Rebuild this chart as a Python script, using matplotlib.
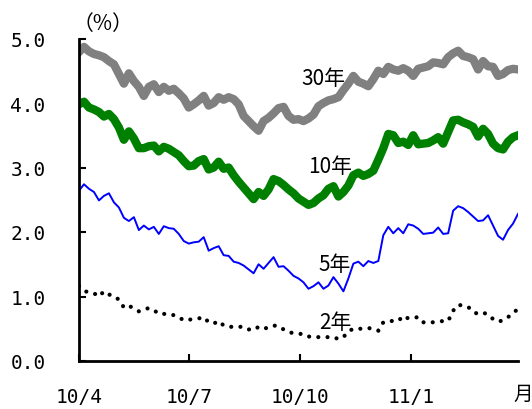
import matplotlib
matplotlib.use("Agg")
import matplotlib.pyplot as plt
import pandas as pd

plt.rcParams["font.family"] = ["Noto Sans CJK JP", "DejaVu Sans"]

# yields (%) sampled evenly from 2010/4 to 2011/3
yield_30y = [4.79, 4.87, 4.80, 4.76, 4.74, 4.71, 4.65, 4.60, 4.45, 4.30,
             4.46, 4.34, 4.25, 4.11, 4.25, 4.29, 4.17, 4.25, 4.19, 4.22,
             4.15, 4.07, 3.93, 3.98, 4.04, 4.11, 3.96, 4.00, 4.09, 4.05,
             4.09, 4.06, 3.98, 3.80, 3.72, 3.64, 3.57, 3.72, 3.77, 3.84,
             3.92, 3.94, 3.80, 3.74, 3.75, 3.72, 3.76, 3.82, 3.95, 4.00,
             4.04, 4.06, 4.09, 4.20, 4.30, 4.42, 4.33, 4.30, 4.26, 4.37,
             4.50, 4.45, 4.56, 4.52, 4.50, 4.54, 4.50, 4.42, 4.53, 4.55,
             4.57, 4.63, 4.62, 4.60, 4.71, 4.77, 4.81, 4.73, 4.71, 4.68,
             4.52, 4.65, 4.57, 4.56, 4.42, 4.45, 4.51, 4.53, 4.52]

yield_10y = [3.98, 4.02, 3.93, 3.90, 3.86, 3.79, 3.83, 3.75, 3.62, 3.43,
             3.56, 3.45, 3.30, 3.30, 3.33, 3.34, 3.25, 3.32, 3.29, 3.24,
             3.19, 3.10, 3.02, 3.03, 3.10, 3.13, 2.97, 3.00, 3.09, 2.98,
             3.00, 2.88, 2.78, 2.69, 2.60, 2.51, 2.62, 2.56, 2.66, 2.82,
             2.79, 2.73, 2.66, 2.60, 2.52, 2.47, 2.42, 2.45, 2.52, 2.57,
             2.67, 2.71, 2.55, 2.62, 2.72, 2.88, 2.92, 2.87, 2.90, 2.95,
             3.12, 3.30, 3.52, 3.50, 3.38, 3.40, 3.35, 3.50, 3.36, 3.37,
             3.38, 3.42, 3.47, 3.37, 3.55, 3.73, 3.74, 3.70, 3.67, 3.63,
             3.48, 3.60, 3.52, 3.37, 3.30, 3.28, 3.40, 3.47, 3.50]

yield_5y = [2.64, 2.74, 2.67, 2.62, 2.49, 2.56, 2.60, 2.46, 2.38, 2.22,
            2.17, 2.23, 2.03, 2.10, 2.04, 2.08, 1.97, 2.09, 2.06, 2.05,
            1.97, 1.86, 1.82, 1.84, 1.85, 1.92, 1.71, 1.75, 1.78, 1.64,
            1.63, 1.54, 1.52, 1.48, 1.42, 1.36, 1.50, 1.43, 1.52, 1.61,
            1.46, 1.47, 1.40, 1.32, 1.28, 1.22, 1.12, 1.16, 1.22, 1.12,
            1.17, 1.30, 1.20, 1.08, 1.28, 1.51, 1.54, 1.47, 1.55, 1.52,
            1.55, 1.95, 2.08, 1.98, 2.06, 1.98, 2.12, 2.10, 2.05, 1.97,
            1.98, 1.99, 2.07, 1.97, 1.98, 2.33, 2.40, 2.37, 2.31, 2.24,
            2.17, 2.18, 2.26, 2.10, 1.94, 1.88, 2.03, 2.13, 2.28]

yield_2y = [1.16, 1.09, 1.06, 1.05, 1.00, 1.08, 1.03, 1.01, 0.95, 0.83,
            0.86, 0.81, 0.77, 0.80, 0.82, 0.79, 0.73, 0.73, 0.73, 0.71,
            0.68, 0.63, 0.64, 0.65, 0.66, 0.68, 0.60, 0.58, 0.62, 0.55,
            0.53, 0.53, 0.53, 0.53, 0.49, 0.48, 0.53, 0.50, 0.52, 0.55,
            0.54, 0.49, 0.45, 0.43, 0.42, 0.42, 0.38, 0.37, 0.37, 0.37,
            0.37, 0.37, 0.34, 0.37, 0.46, 0.50, 0.50, 0.50, 0.51, 0.50,
            0.47, 0.60, 0.62, 0.62, 0.62, 0.70, 0.66, 0.67, 0.68, 0.60,
            0.60, 0.60, 0.61, 0.62, 0.62, 0.78, 0.87, 0.86, 0.84, 0.76,
            0.73, 0.75, 0.72, 0.65, 0.61, 0.63, 0.68, 0.74, 0.81]

tick_dates = ["2010-04-01", "2010-07-01", "2010-10-01", "2011-01-01"]
tick_labels = ["10/4", "10/7", "10/10", "11/1"]

dates = pd.date_range("2010-04-01", "2011-03-31", periods=len(yield_30y))

fig = plt.figure(figsize=(5.32, 4.10), dpi=100)
ax = fig.add_axes([79 / 532, 1 - 362 / 410, (518 - 79) / 532, (362 - 39.5) / 410])

ax.plot(dates, yield_30y, color="#808080", lw=6, solid_joinstyle="round")
ax.plot(dates, yield_10y, color="#008000", lw=6, solid_joinstyle="round")
ax.plot(dates, yield_5y, color="#0000ff", lw=1.4)
ax.plot(dates, yield_2y, color="black", lw=3, linestyle=(0, (0.01, 2.2)),
        dash_capstyle="round")

lab = dict(fontsize=15, ha="center", va="center")
ax.text(pd.Timestamp("2010-10-21"), 4.39, "30年", **lab)
ax.text(pd.Timestamp("2010-10-26"), 3.02, "10年", **lab)
ax.text(pd.Timestamp("2010-10-30"), 1.50, "5年", **lab)
ax.text(pd.Timestamp("2010-10-31"), 0.60, "2年", **lab)

ax.set_xlim(pd.Timestamp("2010-04-01"), pd.Timestamp("2011-03-31"))
ax.set_ylim(0, 5)
ax.set_yticks([0, 1, 2, 3, 4, 5])
ax.set_yticklabels(["0.0", "1.0", "2.0", "3.0", "4.0", "5.0"])
ax.set_xticks(pd.to_datetime(tick_dates))
ax.set_xticklabels(tick_labels)

ax.tick_params(direction="in", length=5, width=1.5, labelsize=14)
ax.tick_params(axis="x", pad=19)
ax.tick_params(axis="y", pad=24)
for t in ax.get_xticklabels() + ax.get_yticklabels():
    t.set_family("DejaVu Sans Mono")
for s in ["top", "right"]:
    ax.spines[s].set_visible(False)
for s in ["left", "bottom"]:
    ax.spines[s].set_linewidth(2)

fig.text(103 / 532, 1 - 24 / 410, "（%）", fontsize=15, ha="center", va="center")
fig.text(523 / 532, 1 - 394 / 410, "月", fontsize=14, ha="center", va="center")

fig.savefig("out.png", dpi=100)
